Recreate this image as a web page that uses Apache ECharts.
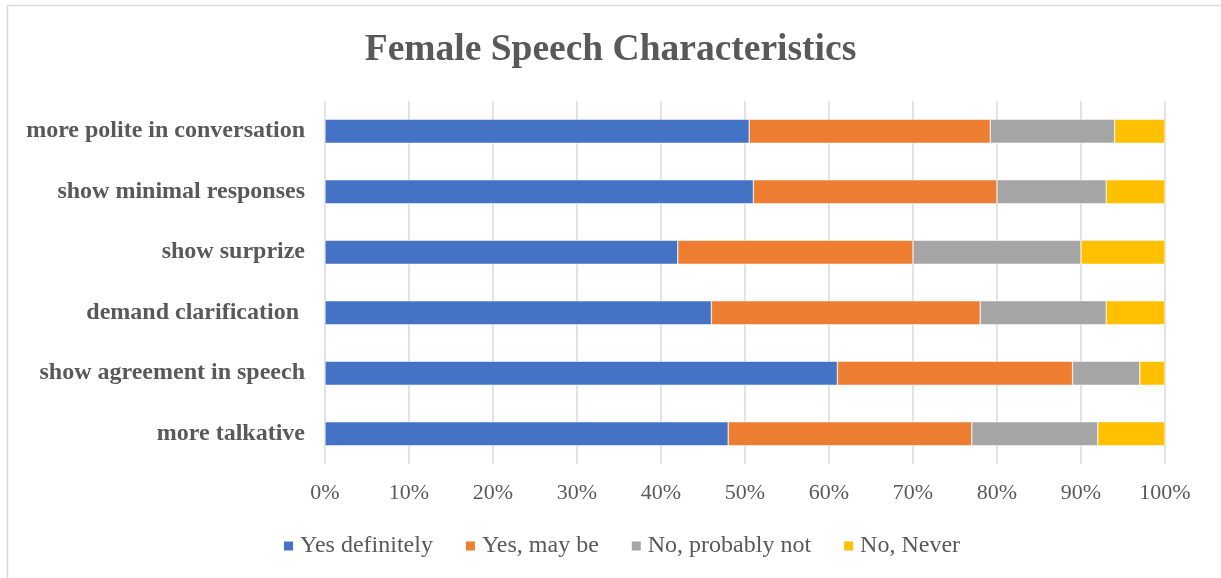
<!DOCTYPE html>
<html>
<head>
<meta charset="utf-8">
<script src="https://cdn.jsdelivr.net/npm/echarts@6/dist/echarts.min.js"></script>
<style>
  html, body { margin: 0; padding: 0; background: #fff; }
  #ChartBar { width: 1221px; height: 578px; }
</style>
</head>
<body>
<div id="ChartBar"></div>
<script>
// categories bottom -> top (ECharts puts the first category at the bottom)
const categories = [
  'more talkative',
  'show agreement in speech',
  'demand clarification ',
  'show surprize',
  'show minimal responses',
  'more polite in conversation'
];
const seriesNames = ['Yes definitely', 'Yes, may be', 'No, probably not', 'No, Never'];
const yesDefinitely = [48, 61, 46, 42, 51, 50.5];
const yesMaybe = [29, 28, 32, 28, 29, 28.7];
const noProbablyNot = [15, 8, 15, 20, 13, 14.8];
const noNever = [8, 3, 7, 10, 7, 6];
const tickLabels = ['0%', '10%', '20%', '30%', '40%', '50%', '60%', '70%', '80%', '90%', '100%'];

const colors = ['#4472C4', '#ED7D31', '#A5A5A5', '#FFC000'];
const values = [yesDefinitely, yesMaybe, noProbablyNot, noNever];
const textColor = '#595959';
const serif = '"Liberation Serif", "Times New Roman", serif';

const chartDom = document.getElementById('ChartBar');
const myChart = echarts.init(chartDom);

const option = {
  animation: false,
  color: colors,
  graphic: [
    {
      type: 'rect',
      shape: { x: 7.5, y: 5.5, width: 1400, height: 700 },
      style: { fill: 'none', stroke: '#d9d9d9', lineWidth: 1.5 },
      silent: true
    }
  ],
  title: {
    text: 'Female Speech Characteristics',
    left: 'center',
    top: 26,
    textStyle: {
      fontFamily: serif,
      fontWeight: 'bold',
      fontSize: 37.5,
      color: textColor
    }
  },
  legend: {
    data: seriesNames,
    left: 282,
    top: 534,
    padding: 0,
    icon: 'rect',
    itemWidth: 11,
    itemHeight: 11,
    itemGap: 31,
    textStyle: {
      fontFamily: serif,
      fontSize: 24,
      color: textColor,
      padding: [0, 0, 0, 1]
    }
  },
  grid: {
    left: 325,
    right: 56,
    top: 101,
    bottom: 114
  },
  xAxis: {
    type: 'value',
    min: 0,
    max: 100,
    interval: 10,
    axisLine: { show: false },
    axisTick: { show: false },
    splitLine: { lineStyle: { color: '#d9d9d9', width: 1.5 } },
    axisLabel: {
      margin: 18,
      fontFamily: serif,
      fontSize: 22,
      color: textColor,
      formatter: (v) => tickLabels[Math.round(v / 10)]
    }
  },
  yAxis: {
    type: 'category',
    data: categories,
    axisLine: { show: false },
    axisTick: { show: false },
    axisLabel: {
      margin: 20,
      fontFamily: serif,
      fontWeight: 'bold',
      fontSize: 24,
      color: textColor
    }
  },
  series: seriesNames.map((name, i) => ({
    name: name,
    type: 'bar',
    stack: 'Total',
    barWidth: 24,
    itemStyle: { color: colors[i], borderColor: '#ffffff', borderWidth: 0.5 },
    data: values[i]
  }))
};

option && myChart.setOption(option);
</script>
</body>
</html>
